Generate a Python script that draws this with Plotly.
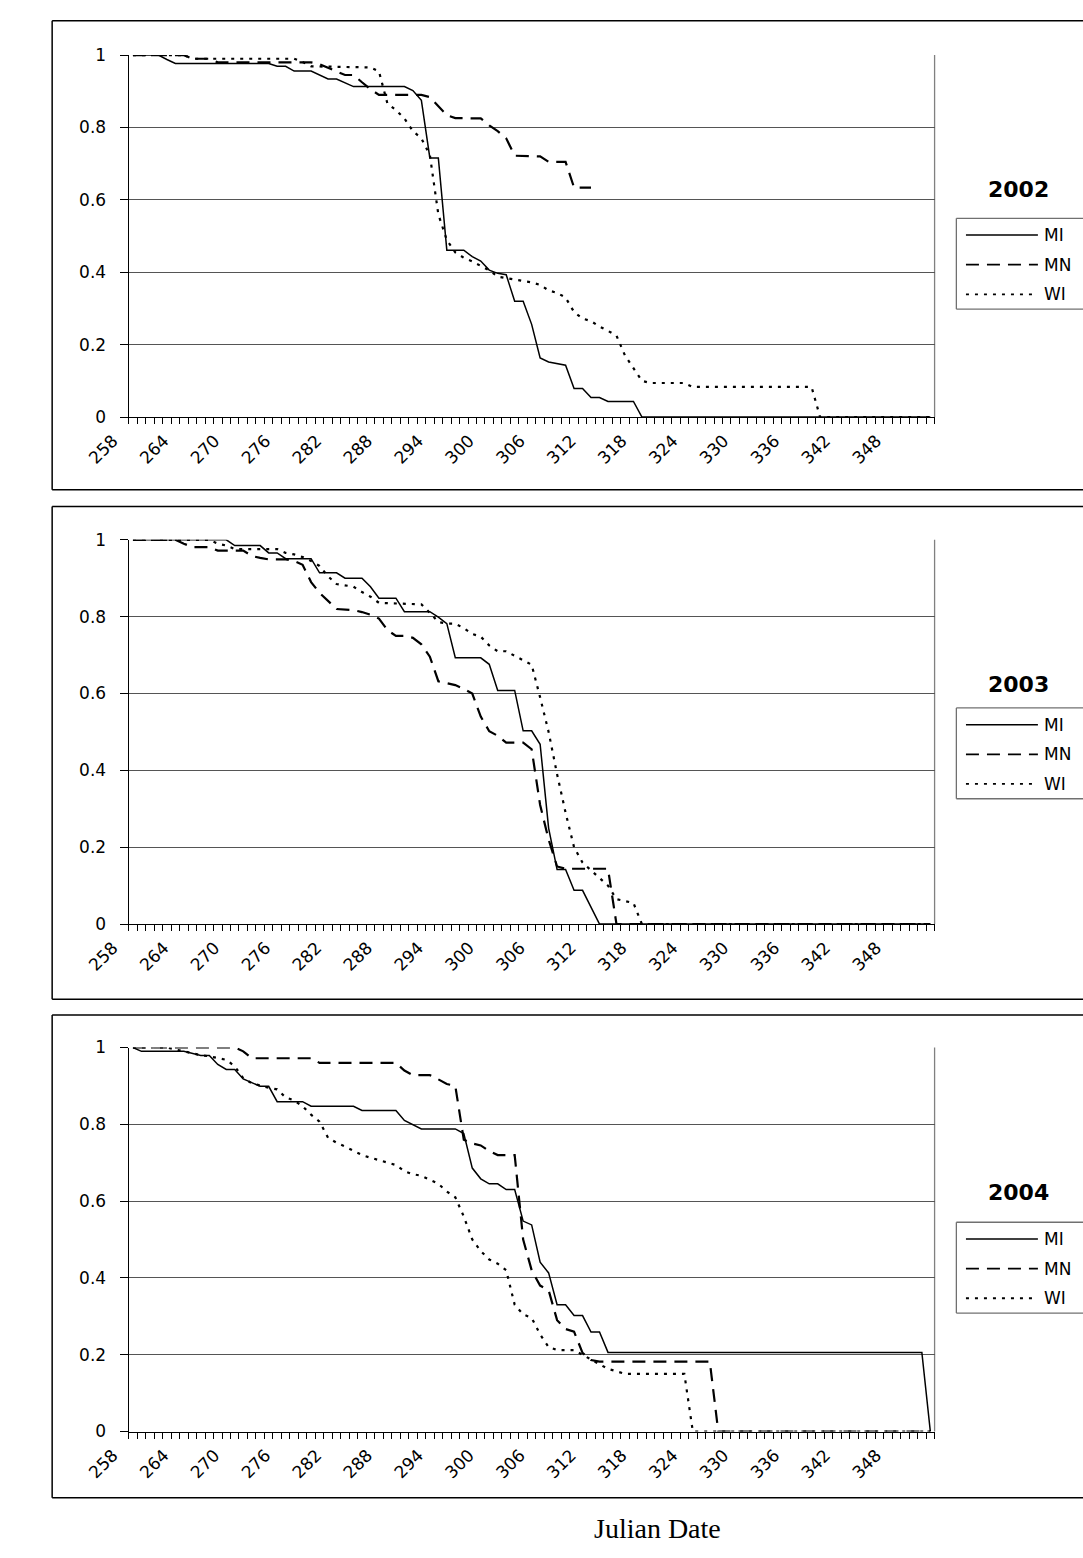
import plotly.graph_objects as go

W, H = 1083, 1558

# ---------------- data (Julian date, proportion) ----------------
MI_2002_days = [258, 261, 262, 263, 274, 275, 276, 277, 279, 280, 281, 282, 284, 290, 291, 292, 293, 294, 295, 297,
                298, 299, 300, 301, 302, 303, 304, 305, 306, 307, 309, 310, 311, 312, 313, 314, 317, 318, 352]
MI_2002_vals = [1.0, 1.0, 0.988, 0.977, 0.977, 0.969, 0.969, 0.956, 0.956, 0.945, 0.934, 0.934, 0.913, 0.913, 0.902,
                0.875, 0.716, 0.716, 0.461, 0.461, 0.443, 0.431, 0.406, 0.397, 0.393, 0.32, 0.32, 0.256, 0.163, 0.152,
                0.143, 0.079, 0.079, 0.054, 0.054, 0.043, 0.043, 0.0, 0.0]

MN_2002_days = [258, 264, 265, 267, 268, 279, 280, 281, 282, 283, 284, 285, 286, 287, 292, 293, 294, 295, 296, 299,
                300, 301, 302, 303, 306, 307, 309, 310, 312]
MN_2002_vals = [1.0, 1.0, 0.99, 0.99, 0.98, 0.98, 0.975, 0.966, 0.955, 0.945, 0.945, 0.925, 0.906, 0.89, 0.89, 0.884,
                0.86, 0.834, 0.826, 0.825, 0.806, 0.79, 0.77, 0.722, 0.72, 0.705, 0.705, 0.634, 0.634]

WI_2002_days = [258, 264, 265, 277, 278, 279, 286, 287, 288, 289, 290, 291, 292, 293, 294, 295, 296, 297, 298, 299,
                300, 301, 302, 303, 304, 305, 306, 307, 308, 309, 310, 311, 312, 313, 314, 315, 316, 317, 318, 319,
                323, 324, 338, 339, 352]
WI_2002_vals = [1.0, 1.0, 0.99, 0.99, 0.981, 0.969, 0.966, 0.955, 0.866, 0.848, 0.825, 0.79, 0.77, 0.724, 0.56, 0.489,
                0.455, 0.44, 0.43, 0.417, 0.405, 0.388, 0.384, 0.38, 0.375, 0.372, 0.365, 0.35, 0.343, 0.33, 0.29,
                0.272, 0.265, 0.25, 0.238, 0.225, 0.17, 0.135, 0.1, 0.094, 0.094, 0.083, 0.083, 0.0, 0.0]

MI_2003_days = [258, 269, 270, 273, 274, 275, 276, 279, 280, 282, 283, 285, 286, 287, 289, 290, 293, 294, 295, 296,
                299, 300, 301, 303, 304, 305, 306, 307, 308, 309, 310, 311, 313, 352]
MI_2003_vals = [1.0, 1.0, 0.985, 0.985, 0.966, 0.966, 0.951, 0.951, 0.914, 0.914, 0.9, 0.9, 0.878, 0.848, 0.848, 0.813,
                0.813, 0.799, 0.782, 0.693, 0.693, 0.676, 0.608, 0.608, 0.503, 0.503, 0.468, 0.25, 0.142, 0.142,
                0.088, 0.088, 0.0, 0.0]

MN_2003_days = [258, 263, 264, 265, 267, 268, 271, 272, 273, 274, 276, 277, 278, 279, 280, 281, 282, 284, 285, 286,
                287, 288, 289, 290, 291, 292, 293, 294, 296, 297, 298, 299, 300, 301, 302, 304, 305, 306, 307, 308,
                309, 314, 315, 352]
MN_2003_vals = [1.0, 1.0, 0.99, 0.981, 0.981, 0.972, 0.972, 0.958, 0.953, 0.949, 0.949, 0.945, 0.935, 0.89, 0.862,
                0.84, 0.82, 0.817, 0.812, 0.805, 0.795, 0.765, 0.75, 0.75, 0.745, 0.728, 0.696, 0.632, 0.622, 0.612,
                0.6, 0.54, 0.502, 0.49, 0.472, 0.472, 0.455, 0.31, 0.22, 0.15, 0.144, 0.144, 0.0, 0.0]

WI_2003_days = [258, 267, 268, 269, 270, 275, 276, 277, 278, 279, 280, 281, 282, 284, 285, 286, 287, 292, 293, 294,
                295, 296, 297, 298, 299, 300, 301, 302, 303, 304, 305, 306, 307, 308, 309, 310, 311, 312, 313, 314,
                315, 316, 317, 318, 352]
WI_2003_vals = [1.0, 1.0, 0.99, 0.985, 0.976, 0.976, 0.966, 0.962, 0.955, 0.945, 0.932, 0.905, 0.885, 0.878, 0.864,
                0.852, 0.836, 0.832, 0.81, 0.786, 0.782, 0.782, 0.77, 0.755, 0.748, 0.725, 0.71, 0.71, 0.698, 0.687,
                0.675, 0.59, 0.5, 0.39, 0.29, 0.2, 0.16, 0.14, 0.12, 0.1, 0.065, 0.06, 0.055, 0.0, 0.0]

MI_2004_days = [258, 259, 264, 266, 267, 268, 269, 270, 271, 272, 273, 274, 275, 278, 279, 284, 285, 289, 290, 292,
                296, 297, 298, 299, 300, 301, 302, 303, 304, 305, 306, 307, 308, 309, 310, 311, 312, 313, 314, 351, 352]
MI_2004_vals = [1.0, 0.99, 0.99, 0.979, 0.979, 0.956, 0.943, 0.943, 0.918, 0.909, 0.899, 0.899, 0.859, 0.859, 0.847,
                0.847, 0.836, 0.836, 0.81, 0.788, 0.788, 0.776, 0.686, 0.658, 0.645, 0.645, 0.63, 0.63, 0.548, 0.538,
                0.441, 0.413, 0.33, 0.33, 0.302, 0.302, 0.259, 0.259, 0.206, 0.206, 0.0]

MN_2004_days = [258, 270, 271, 272, 279, 280, 289, 290, 291, 293, 294, 295, 296, 297, 298, 299, 300, 301, 303, 304,
                305, 306, 307, 308, 309, 310, 311, 312, 313, 326, 327, 352]
MN_2004_vals = [1.0, 1.0, 0.99, 0.972, 0.972, 0.96, 0.96, 0.94, 0.928, 0.928, 0.917, 0.905, 0.9, 0.76, 0.75, 0.745,
                0.73, 0.72, 0.72, 0.5, 0.42, 0.38, 0.368, 0.29, 0.267, 0.26, 0.205, 0.186, 0.182, 0.182, 0.0, 0.0]

WI_2004_days = [258, 262, 263, 264, 265, 266, 267, 268, 269, 270, 271, 272, 273, 274, 275, 276, 277, 278, 279, 280,
                281, 282, 283, 284, 285, 286, 287, 288, 289, 290, 291, 292, 293, 294, 295, 296, 297, 298, 299, 300,
                301, 302, 303, 304, 305, 306, 307, 308, 310, 311, 312, 313, 314, 315, 316, 323, 324, 352]
WI_2004_vals = [1.0, 1.0, 0.995, 0.99, 0.985, 0.98, 0.977, 0.972, 0.968, 0.951, 0.92, 0.907, 0.9, 0.895, 0.891, 0.87,
                0.862, 0.847, 0.825, 0.807, 0.765, 0.752, 0.742, 0.73, 0.72, 0.713, 0.706, 0.7, 0.694, 0.678, 0.67,
                0.666, 0.655, 0.645, 0.625, 0.61, 0.56, 0.5, 0.47, 0.448, 0.437, 0.42, 0.33, 0.305, 0.296, 0.253,
                0.22, 0.212, 0.212, 0.2, 0.188, 0.175, 0.163, 0.157, 0.15, 0.15, 0.0, 0.0]

years = ["2002", "2003", "2004"]
states = ["MI", "MN", "WI"]
x_tick_values = list(range(258, 349, 6))
x_tick_labels = [str(v) for v in x_tick_values]

panels = [
    [(MI_2002_days, MI_2002_vals), (MN_2002_days, MN_2002_vals), (WI_2002_days, WI_2002_vals)],
    [(MI_2003_days, MI_2003_vals), (MN_2003_days, MN_2003_vals), (WI_2003_days, WI_2003_vals)],
    [(MI_2004_days, MI_2004_vals), (MN_2004_days, MN_2004_vals), (WI_2004_days, WI_2004_vals)],
]

# ---------------- styling / layout (pixels) ----------------
FONT = "DejaVu Sans"
styles = {
    "MI": dict(color="black", width=1.5, dash="solid"),
    "MN": dict(color="black", width=2.2, dash="13px,8px"),
    "WI": dict(color="black", width=2.2, dash="3px,6px"),
}
PLOT_X0, PLOT_X1 = 88.3, 928.3
plot_y = [(45.7, 412.3), (536.7, 926.0), (1051.0, 1440.0)]     # y(1), y(0)
box_y = [(11, 486), (503, 1002), (1018, 1507)]
title_y = [182, 683, 1198]
legend_top = [211, 707, 1228]


def px(x):
    return min(x, W) / W


def py(y):
    return 1 - y / H


fig = go.Figure()

for i, series in enumerate(panels):
    xa = "x" if i == 0 else f"x{i + 1}"
    ya = "y" if i == 0 else f"y{i + 1}"
    for name, (d, v) in zip(states, series):
        fig.add_trace(go.Scatter(x=d, y=v, mode="lines", name=name, xaxis=xa, yaxis=ya,
                                 line=styles[name], showlegend=False, hoverinfo="skip"))

axis_common_x = dict(
    range=[257.5, 352.5], showgrid=False, zeroline=False, showline=True, linecolor="black", linewidth=1.3,
    tickmode="array", tickvals=x_tick_values, ticktext=x_tick_labels, ticks="", tickangle=-45,
    tickfont=dict(family=FONT, size=17, color="black"), ticklabelstandoff=6, ticklabelshift=-20,
    minor=dict(ticks="outside", tickmode="linear", tick0=257.5, dtick=1, ticklen=6, tickcolor="black",
               tickwidth=1, showgrid=False),
    fixedrange=True,
)
axis_common_y = dict(
    range=[0, 1], dtick=0.2, tick0=0, showgrid=True, gridcolor="#555555", gridwidth=1, zeroline=False,
    showline=True, linecolor="black", linewidth=1.3, ticks="outside", ticklen=8, tickcolor="black",
    tickfont=dict(family=FONT, size=17, color="black"), ticklabelstandoff=10, fixedrange=True,
)

layout = dict(width=W, height=H, margin=dict(l=0, r=0, t=0, b=0), paper_bgcolor="white",
              plot_bgcolor="white", showlegend=False)
for i in range(3):
    xk = "xaxis" if i == 0 else f"xaxis{i + 1}"
    yk = "yaxis" if i == 0 else f"yaxis{i + 1}"
    ytop, ybot = plot_y[i]
    layout[xk] = dict(axis_common_x, domain=[px(PLOT_X0), px(PLOT_X1)],
                      anchor="y" if i == 0 else f"y{i + 1}")
    layout[yk] = dict(axis_common_y, domain=[py(ybot), py(ytop)],
                      anchor="x" if i == 0 else f"x{i + 1}")
fig.update_layout(**layout)

shapes = []
annotations = []
for i in range(3):
    ytop, ybot = plot_y[i]
    # plot-area border (right, grey)
    shapes.append(dict(type="line", xref="paper", yref="paper", x0=px(PLOT_X1), x1=px(PLOT_X1),
                       y0=py(ybot), y1=py(ytop), line=dict(color="#808080", width=1.3), layer="below"))
    # chart-area frame (right side runs off the page)
    b0, b1 = box_y[i]
    for (xa0, ya0, xa1, ya1) in [(8.5, b0, 1083, b0), (8.5, b1, 1083, b1), (8.5, b0, 8.5, b1)]:
        shapes.append(dict(type="line", xref="paper", yref="paper", x0=px(xa0), x1=px(xa1),
                           y0=py(ya0), y1=py(ya1), line=dict(color="black", width=1.5)))
    # year title
    annotations.append(dict(x=px(1016), y=py(title_y[i]), xref="paper", yref="paper", text=f"<b>{years[i]}</b>",
                            showarrow=False, font=dict(family=FONT, size=22, color="black"),
                            xanchor="center", yanchor="middle"))
    # legend box (right side runs off the page)
    lt = legend_top[i]
    for (xa0, ya0, xa1, ya1) in [(951, lt, 1083, lt), (951, lt + 92, 1083, lt + 92), (951, lt, 951, lt + 92)]:
        shapes.append(dict(type="line", xref="paper", yref="paper", x0=px(xa0), x1=px(xa1),
                           y0=py(ya0), y1=py(ya1), line=dict(color="#707070", width=1.3)))
    for j, name in enumerate(states):
        ry = lt + 17 + 30 * j
        st = styles[name]
        shapes.append(dict(type="line", xref="paper", yref="paper", x0=px(961), x1=px(1036),
                           y0=py(ry), y1=py(ry), line=dict(color="black", width=1.8 if name != "MI" else 1.5,
                                                           dash=st["dash"])))
        annotations.append(dict(x=px(1040), y=py(ry), xref="paper", yref="paper", text=name, showarrow=False,
                                font=dict(family=FONT, size=17, color="black"), xanchor="left",
                                yanchor="middle"))

annotations.append(dict(x=px(640), y=py(1538), xref="paper", yref="paper", text="Julian Date", showarrow=False,
                        font=dict(family="Liberation Serif", size=28, color="black"),
                        xanchor="center", yanchor="middle"))

fig.update_layout(shapes=shapes, annotations=annotations)
fig.write_html("out.html", post_script="document.body.style.margin='0';")
